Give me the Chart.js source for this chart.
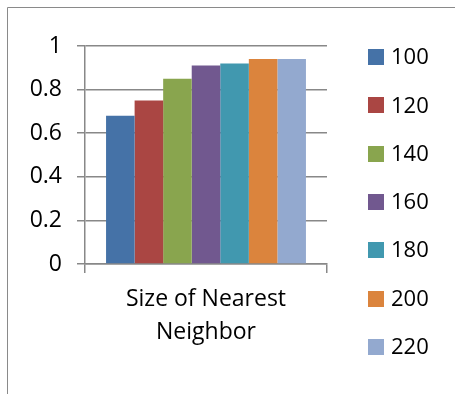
<!DOCTYPE html>
<html>
<head>
<meta charset="utf-8">
<script src="https://cdn.jsdelivr.net/npm/chart.js@4/dist/chart.umd.min.js"></script>
<style>
  html, body { margin: 0; padding: 0; background: #fff; overflow: hidden; }
  #wrap { position: relative; width: 455px; height: 394px; }
</style>
</head>
<body>
<div id="wrap"><canvas id="chart" width="455" height="394"></canvas></div>
<script>
// data
const categories = [['Size of Nearest', 'Neighbor']];
const seriesNames = ['100', '120', '140', '160', '180', '200', '220'];
const seriesValues = [0.68, 0.75, 0.85, 0.91, 0.92, 0.94, 0.94];
const seriesColors = ['#4572A7', '#AA4643', '#89A54E', '#71588F', '#4198AF', '#DB843D', '#93A9CF'];
const yMin = 0, yMax = 1, yStep = 0.2;

const FONT = '"Open Sans", "Noto Sans", sans-serif';
const gridGray = '#888888';

const datasets = seriesNames.map((name, i) => ({
  label: name,
  data: [seriesValues[i]],
  backgroundColor: seriesColors[i],
  borderWidth: 0
}));

// outer frame (only top and left edges show in the crop)
const framePlugin = {
  id: 'frame',
  beforeDraw(chart) {
    const ctx = chart.ctx;
    ctx.save();
    ctx.strokeStyle = '#8a8a8a';
    ctx.lineWidth = 1;
    ctx.beginPath();
    ctx.moveTo(7.5, chart.height);
    ctx.lineTo(7.5, 7.5);
    ctx.lineTo(chart.width, 7.5);
    ctx.stroke();
    ctx.restore();
  }
};

// legend on the right, one row per series
const sideLegend = {
  id: 'sideLegend',
  afterDraw(chart) {
    const ctx = chart.ctx;
    ctx.save();
    ctx.font = '22px ' + FONT;
    ctx.textBaseline = 'middle';
    ctx.textAlign = 'left';
    chart.data.datasets.forEach((ds, i) => {
      const cy = 57 + i * 48.3;
      ctx.fillStyle = ds.backgroundColor;
      ctx.fillRect(368, Math.round(cy - 8), 16, 16);
      ctx.fillStyle = '#000';
      ctx.fillText(ds.label, 391, cy + 1);
    });
    ctx.restore();
  }
};

new Chart(document.getElementById('chart'), {
  type: 'bar',
  data: { labels: categories, datasets: datasets },
  options: {
    responsive: false,
    animation: false,
    events: [],
    layout: { padding: { left: 0, top: 46, right: 128, bottom: 0 } },
    datasets: { bar: { categoryPercentage: 0.826, barPercentage: 1 } },
    plugins: { legend: { display: false }, tooltip: { enabled: false } },
    scales: {
      x: {
        offset: true,
        grid: { display: true, offset: true, drawOnChartArea: false, drawTicks: true, tickLength: 9, color: gridGray, lineWidth: 1.5 },
        border: { display: true, color: gridGray, width: 1.5 },
        ticks: { color: '#000', font: { family: FONT, size: 23, lineHeight: 1.43 }, padding: 10, maxRotation: 0 },
        afterFit(scale) { scale.height = 130; }
      },
      y: {
        min: yMin, max: yMax,
        grid: { color: gridGray, lineWidth: 1.5, drawTicks: true, tickLength: 8 },
        border: { display: true, color: gridGray, width: 1.5 },
        ticks: {
          stepSize: yStep, color: '#000', font: { family: FONT, size: 23 }, padding: 15,
          callback: (v) => String(Number(v.toFixed(2)))
        },
        afterFit(scale) { scale.width = 85; }
      }
    }
  },
  plugins: [framePlugin, sideLegend]
});
</script>
</body>
</html>
